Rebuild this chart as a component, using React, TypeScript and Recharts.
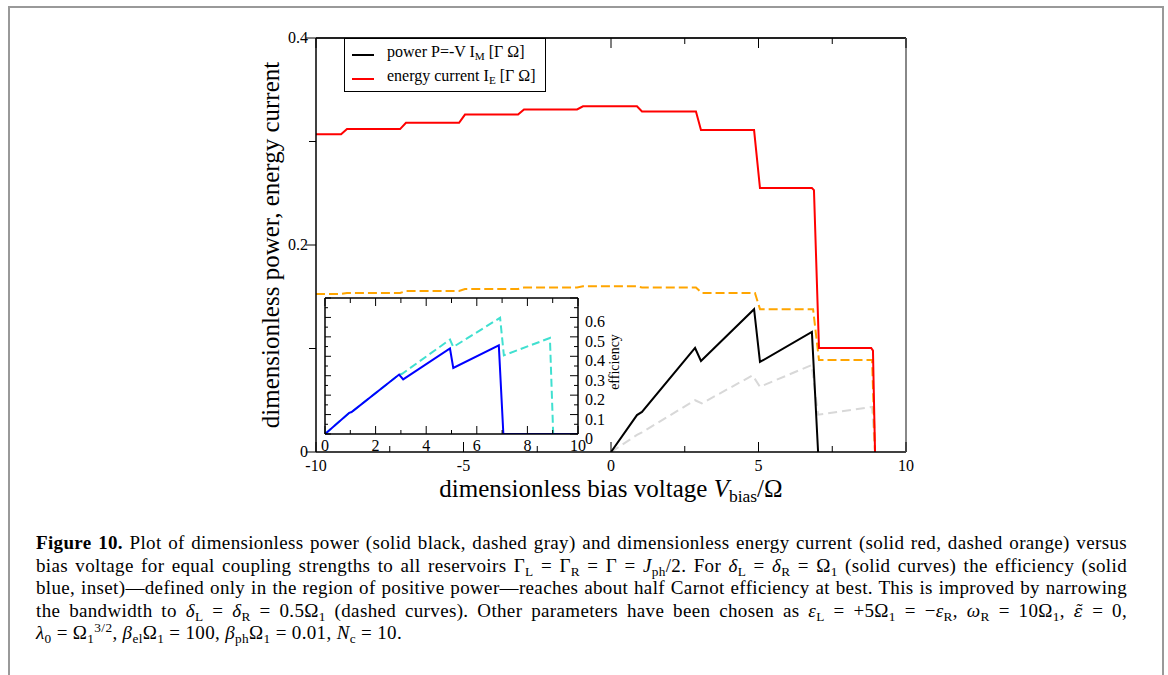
import { LineChart, Line, XAxis, YAxis } from "recharts"

// main panel: bias voltage V_bias/Ω and dimensionless power / energy current
const biasRed = [-10, -9.15, -8.95, -7.15, -6.95, -5.15, -4.95, -3.15, -2.95, -1.15, -0.95, 0.88, 1.05, 2.88, 3.05, 4.85, 5.05, 6.81, 6.88, 7.05, 8.82, 8.88, 8.95]
const energyRed = [0.307, 0.307, 0.312, 0.312, 0.318, 0.318, 0.326, 0.326, 0.331, 0.331, 0.334, 0.334, 0.329, 0.329, 0.311, 0.311, 0.255, 0.255, 0.253, 0.1005, 0.1005, 0.098, 0]

const biasOrange = [-10, -9.15, -8.95, -7.15, -6.95, -5.15, -4.95, -3.15, -2.95, -1.15, -0.95, 0.88, 1.05, 2.88, 3.08, 4.88, 5.05, 6.85, 7.05, 8.85, 8.95]
const energyOrange = [0.1527, 0.1527, 0.1536, 0.1536, 0.1556, 0.1556, 0.1575, 0.1575, 0.159, 0.159, 0.1602, 0.1602, 0.159, 0.159, 0.1536, 0.1536, 0.138, 0.138, 0.089, 0.089, 0]

const biasPower = [0, 0.88, 1.05, 2.85, 3.05, 4.85, 5.05, 6.81, 7.02]
const power = [0, 0.0357, 0.0387, 0.1005, 0.088, 0.138, 0.087, 0.116, 0]

const biasGray = [0, 0.88, 1.05, 2.85, 3.08, 4.8, 5.05, 6.8, 7.02, 8.85, 8.95]
const powerGray = [0, 0.0165, 0.019, 0.05, 0.047, 0.074, 0.063, 0.084, 0.036, 0.0435, 0]

const mainXTicks = [-10, -7.5, -5, -2.5, 0, 2.5, 5, 7.5, 10]
const mainYTicks = [0, 0.1, 0.2, 0.3, 0.4]

// inset: efficiency
const biasBlue = [0, 0.96, 1.05, 2.93, 3.09, 4.94, 5.07, 6.87, 7.05, 10]
const effBlue = [0, 0.109, 0.113, 0.306, 0.281, 0.44, 0.34, 0.456, 0, 0]
const biasCyan = [0, 0.96, 1.05, 2.93, 3.05, 4.94, 5.07, 6.92, 7.07, 8.89, 9.02, 10]
const effCyan = [0, 0.109, 0.113, 0.306, 0.31, 0.486, 0.448, 0.598, 0.405, 0.494, 0, 0]

const insetXTicks = [0, 1, 2, 3, 4, 5, 6, 7, 8, 9, 10]
const insetYTicks = [0, 0.05, 0.1, 0.15, 0.2, 0.25, 0.3, 0.35, 0.4, 0.45, 0.5, 0.55, 0.6, 0.65, 0.7]

const serif = '"Liberation Serif", "Times New Roman", serif'

const pts = (xs: number[], ys: number[]) => xs.map((x, i) => ({ x, y: ys[i] }))

const sub = (s: string) => (
  <span style={{ fontSize: "0.7em", verticalAlign: "-0.3em", lineHeight: 0 }}>{s}</span>
)

function MainXTick(props: any) {
  const { x, y, payload } = props
  const v = payload.value
  const major = Math.abs(v % 5) < 1e-6
  return (
    <g>
      <line x1={x} x2={x} y1={y} y2={y - (major ? 10 : 6)} stroke="#000" />
      {major && (
        <text x={x} y={y + 19} textAnchor="middle" fontFamily={serif} fontSize={16} fill="#000">
          {v}
        </text>
      )}
    </g>
  )
}

function MainTopTick(props: any) {
  const { x, y, payload } = props
  const major = Math.abs(payload.value % 5) < 1e-6
  return <line x1={x} x2={x} y1={y} y2={y + (major ? 10 : 6)} stroke="#000" />
}

function MainYTick(props: any) {
  const { x, y, payload } = props
  const v = payload.value
  const major = Math.round(v * 10) % 2 === 0
  return (
    <g>
      <line x1={x - (major ? 10 : 7)} x2={x} y1={y} y2={y} stroke="#000" />
      {major && (
        <text x={x - 8} y={y + 5} textAnchor="end" fontFamily={serif} fontSize={16} fill="#000">
          {v}
        </text>
      )}
    </g>
  )
}

function InsetXTick(props: any) {
  const { x, y, payload } = props
  const v = payload.value
  const major = v % 2 === 0
  return (
    <g>
      <line x1={x} x2={x} y1={y} y2={y - (major ? 8 : 4)} stroke="#000" />
      {major && (
        <text x={x} y={y + 17} textAnchor="middle" fontFamily={serif} fontSize={16} fill="#000">
          {v}
        </text>
      )}
    </g>
  )
}

function InsetTopTick(props: any) {
  const { x, y, payload } = props
  const major = payload.value % 2 === 0
  return <line x1={x} x2={x} y1={y} y2={y + (major ? 8 : 5)} stroke="#000" />
}

function InsetLeftTick(props: any) {
  const { x, y, payload } = props
  const major = Math.round(payload.value * 100) % 10 === 0
  return <line x1={x} x2={x + (major ? 6 : 3)} y1={y} y2={y} stroke="#000" />
}

function InsetRightTick(props: any) {
  const { x, y, payload } = props
  const v = payload.value
  const major = Math.round(v * 100) % 10 === 0
  return (
    <g>
      <line x1={x - (major ? 8 : 4)} x2={x} y1={y} y2={y} stroke="#000" />
      {major && v < 0.65 && (
        <text x={x + 7} y={y + 10} textAnchor="start" fontFamily={serif} fontSize={16} fill="#000">
          {v === 0 ? "0" : v.toFixed(1)}
        </text>
      )}
    </g>
  )
}

const captionLine = {
  textAlign: "justify" as const,
  textAlignLast: "justify" as const,
  whiteSpace: "nowrap" as const,
}

export default function App() {
  return (
    <div
      style={{
        position: "absolute",
        left: 0,
        top: 0,
        width: 1168,
        height: 675,
        background: "#fff",
        overflow: "hidden",
        fontFamily: serif,
        color: "#000",
      }}
    >
      <div
        style={{
          position: "absolute",
          left: 8,
          top: 6,
          width: 1156,
          height: 720,
          border: "2px solid #999",
          boxSizing: "border-box",
        }}
      />

      <div style={{ position: "absolute", left: 0, top: 0 }}>
        <LineChart width={1168} height={500} margin={{ top: 37, right: 261, bottom: 18, left: 256 }}>
          <XAxis
            xAxisId="b"
            type="number"
            dataKey="x"
            domain={[-10, 10]}
            allowDataOverflow
            ticks={mainXTicks}
            interval={0}
            height={30}
            tickSize={0}
            tickMargin={0}
            tickLine={false}
            axisLine={{ stroke: "#000", strokeWidth: 1.5 }}
            tick={<MainXTick />}
          />
          <XAxis
            xAxisId="t"
            orientation="top"
            type="number"
            dataKey="x"
            domain={[-10, 10]}
            allowDataOverflow
            ticks={mainXTicks}
            interval={0}
            height={1}
            tickSize={0}
            tickMargin={0}
            tickLine={false}
            axisLine={{ stroke: "#222", strokeWidth: 2 }}
            tick={<MainTopTick />}
          />
          <YAxis
            yAxisId="l"
            type="number"
            domain={[0, 0.4]}
            allowDataOverflow
            ticks={mainYTicks}
            interval={0}
            width={60}
            tickSize={0}
            tickMargin={0}
            tickLine={false}
            axisLine={{ stroke: "#000", strokeWidth: 1.5 }}
            tick={<MainYTick />}
          />
          <YAxis
            yAxisId="r"
            orientation="right"
            type="number"
            domain={[0, 0.4]}
            allowDataOverflow
            width={1}
            tick={false}
            tickLine={false}
            axisLine={{ stroke: "#888", strokeWidth: 2 }}
          />
          <Line xAxisId="b" yAxisId="l" data={pts(biasGray, powerGray)} dataKey="y" stroke="#d8d8d8" strokeWidth={2} strokeDasharray="9 5" dot={false} isAnimationActive={false} />
          <Line xAxisId="b" yAxisId="l" data={pts(biasOrange, energyOrange)} dataKey="y" stroke="#ffa500" strokeWidth={2} strokeDasharray="9 4" dot={false} isAnimationActive={false} />
          <Line xAxisId="b" yAxisId="l" data={pts(biasPower, power)} dataKey="y" stroke="#000" strokeWidth={2} dot={false} isAnimationActive={false} />
          <Line xAxisId="b" yAxisId="l" data={pts(biasRed, energyRed)} dataKey="y" stroke="#ff0000" strokeWidth={2} dot={false} isAnimationActive={false} />
        </LineChart>
      </div>

      {/* legend */}
      <div
        style={{
          position: "absolute",
          left: 344,
          top: 38,
          width: 202,
          height: 54,
          border: "1px solid #000",
          boxSizing: "border-box",
          background: "#fff",
          fontSize: 16,
        }}
      >
        <div style={{ position: "absolute", left: 7, top: 15, width: 22, height: 2, background: "#000" }} />
        <div style={{ position: "absolute", left: 42, top: 4, whiteSpace: "nowrap" }}>
          power P=-V I{sub("M")} [Γ Ω]
        </div>
        <div style={{ position: "absolute", left: 7, top: 39, width: 22, height: 2, background: "#ff0000" }} />
        <div style={{ position: "absolute", left: 42, top: 28, whiteSpace: "nowrap" }}>
          energy current I{sub("E")} [Γ Ω]
        </div>
      </div>

      {/* inset */}
      <div style={{ position: "absolute", left: 325, top: 298, width: 253, height: 136, background: "#fff" }} />
      <div style={{ position: "absolute", left: 305, top: 288 }}>
        <LineChart width={330} height={170} margin={{ top: 9, right: 56, bottom: 23, left: 19 }}>
          <XAxis
            xAxisId="b"
            type="number"
            dataKey="x"
            domain={[0, 10]}
            allowDataOverflow
            ticks={insetXTicks}
            interval={0}
            height={1}
            tickSize={0}
            tickMargin={0}
            tickLine={false}
            axisLine={{ stroke: "#000", strokeWidth: 1.5 }}
            tick={<InsetXTick />}
          />
          <XAxis
            xAxisId="t"
            orientation="top"
            type="number"
            dataKey="x"
            domain={[0, 10]}
            allowDataOverflow
            ticks={insetXTicks}
            interval={0}
            height={1}
            tickSize={0}
            tickMargin={0}
            tickLine={false}
            axisLine={{ stroke: "#000", strokeWidth: 1.5 }}
            tick={<InsetTopTick />}
          />
          <YAxis
            yAxisId="l"
            type="number"
            domain={[0, 0.7]}
            allowDataOverflow
            ticks={insetYTicks}
            interval={0}
            width={1}
            tickSize={0}
            tickMargin={0}
            tickLine={false}
            axisLine={{ stroke: "#000", strokeWidth: 1.5 }}
            tick={<InsetLeftTick />}
          />
          <YAxis
            yAxisId="r"
            orientation="right"
            type="number"
            domain={[0, 0.7]}
            allowDataOverflow
            ticks={insetYTicks}
            interval={0}
            width={1}
            tickSize={0}
            tickMargin={0}
            tickLine={false}
            axisLine={{ stroke: "#000", strokeWidth: 1.5 }}
            tick={<InsetRightTick />}
          />
          <Line xAxisId="b" yAxisId="l" data={pts(biasCyan, effCyan)} dataKey="y" stroke="#40e0d0" strokeWidth={2} strokeDasharray="8 4" dot={false} isAnimationActive={false} />
          <Line xAxisId="b" yAxisId="l" data={pts(biasBlue, effBlue)} dataKey="y" stroke="#0000ff" strokeWidth={2} dot={false} isAnimationActive={false} />
        </LineChart>
      </div>
      <div
        style={{
          position: "absolute",
          left: 615,
          top: 362,
          transform: "translate(-50%, -50%) rotate(-90deg)",
          fontSize: 14,
          whiteSpace: "nowrap",
        }}
      >
        efficiency
      </div>

      {/* axis titles */}
      <div
        style={{
          position: "absolute",
          left: 271,
          top: 245,
          transform: "translate(-50%, -50%) rotate(-90deg)",
          fontSize: 25,
          whiteSpace: "nowrap",
        }}
      >
        dimensionless power, energy current
      </div>
      <div
        style={{
          position: "absolute",
          left: 611,
          top: 489,
          transform: "translate(-50%, -50%)",
          fontSize: 25,
          whiteSpace: "nowrap",
        }}
      >
        dimensionless bias voltage <i>V</i>
        {sub("bias")}/Ω
      </div>

      {/* caption */}
      <div
        style={{
          position: "absolute",
          left: 36,
          top: 532,
          width: 1091,
          fontSize: 19,
          letterSpacing: 0.35,
          lineHeight: "22.6px",
        }}
      >
        <div style={captionLine}>
          <b>Figure 10.</b> Plot of dimensionless power (solid black, dashed gray) and dimensionless energy current (solid red, dashed orange) versus
        </div>
        <div style={captionLine}>
          bias voltage for equal coupling strengths to all reservoirs Γ{sub("L")} = Γ{sub("R")} = Γ = <i>J</i>
          {sub("ph")}/2. For <i>δ</i>
          {sub("L")} = <i>δ</i>
          {sub("R")} = Ω{sub("1")} (solid curves) the efficiency (solid
        </div>
        <div style={captionLine}>
          blue, inset)—defined only in the region of positive power—reaches about half Carnot efficiency at best. This is improved by narrowing
        </div>
        <div style={captionLine}>
          the bandwidth to <i>δ</i>
          {sub("L")} = <i>δ</i>
          {sub("R")} = 0.5Ω{sub("1")} (dashed curves). Other parameters have been chosen as <i>ε</i>
          {sub("L")} = +5Ω{sub("1")} = −<i>ε</i>
          {sub("R")}, <i>ω</i>
          {sub("R")} = 10Ω{sub("1")}, <i style={{ fontFamily: '"DejaVu Serif", serif', fontSize: "0.9em" }}>ε̃</i> = 0,
        </div>
        <div style={{ whiteSpace: "nowrap" }}>
          <i>λ</i>
          {sub("0")} = Ω{sub("1")}
          <span style={{ fontSize: "0.7em", verticalAlign: "0.5em", lineHeight: 0 }}>3/2</span>, <i>β</i>
          {sub("el")}Ω{sub("1")} = 100, <i>β</i>
          {sub("ph")}Ω{sub("1")} = 0.01, <i>N</i>
          {sub("c")} = 10.
        </div>
      </div>
    </div>
  )
}
